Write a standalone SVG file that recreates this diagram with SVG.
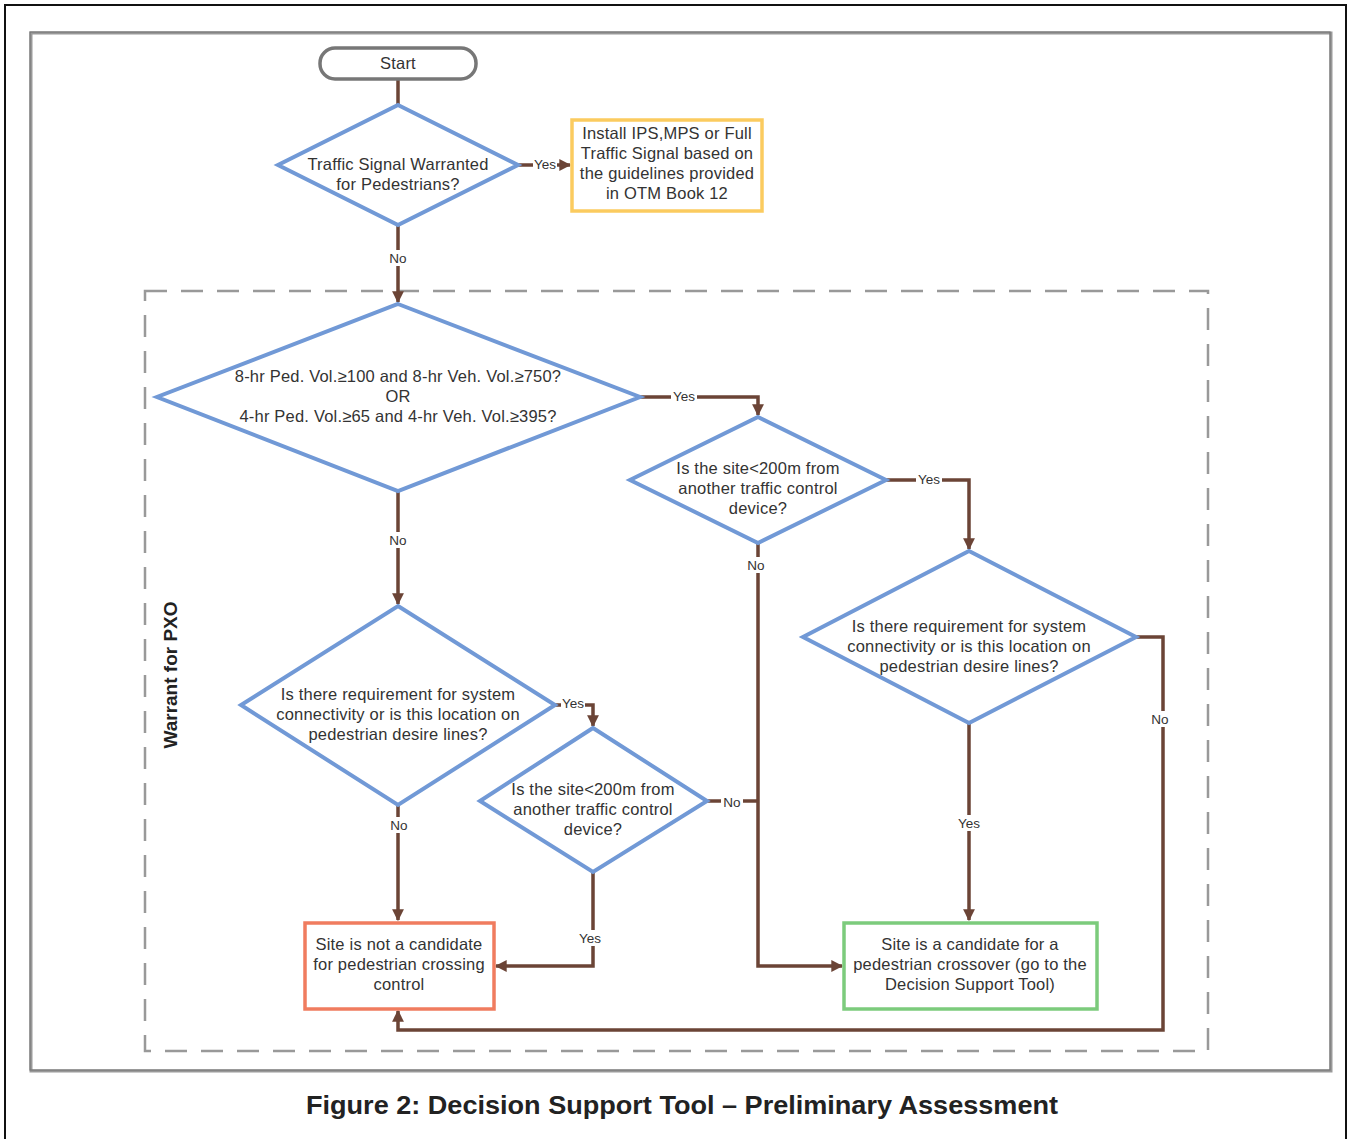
<svg xmlns="http://www.w3.org/2000/svg" width="1352" height="1139" viewBox="0 0 1352 1139">
<style>
text{font-family:"Liberation Sans",Arial,sans-serif;fill:#333;}
.t{font-size:16.5px;letter-spacing:0.2px;text-anchor:middle;}
.lbl{font-size:13.5px;text-anchor:middle;}
.dia{fill:#fff;stroke:#7199D6;stroke-width:4;stroke-linejoin:miter;}
.con{fill:none;stroke:#6B4436;stroke-width:3.5;}
.lb{fill:#fff;}
</style>
<defs>
<marker id="ah" viewBox="0 0 10 10" refX="9" refY="5" markerWidth="3.4" markerHeight="3.4" orient="auto" markerUnits="strokeWidth">
<path d="M0,0 L10,5 L0,10 z" fill="#6B4436"/>
</marker>
</defs>
<rect x="0" y="0" width="1352" height="1139" fill="#fff"/>
<rect x="5" y="5" width="1341" height="1150" fill="none" stroke="#111" stroke-width="2"/>
<rect x="31" y="33" width="1300" height="1038" fill="none" stroke="#999" stroke-width="3"/>
<rect x="30" y="32" width="1300" height="1038" fill="none" stroke="#777" stroke-width="1.2"/>
<rect x="145" y="291" width="1063" height="760" fill="none" stroke="#999" stroke-width="2.5" stroke-dasharray="22,14"/>
<text x="177" y="675" transform="rotate(-90 177 675)" style="font-size:19px;font-weight:bold;text-anchor:middle;fill:#222">Warrant for PXO</text>

<g id="connectors">
<path class="con" d="M398,79 L398,105"/>
<path class="con" d="M518,165 L570,165" marker-end="url(#ah)"/>
<path class="con" d="M398,225 L398,302" marker-end="url(#ah)"/>
<path class="con" d="M640,397 L758,397 L758,415" marker-end="url(#ah)"/>
<path class="con" d="M398,491 L398,604" marker-end="url(#ah)"/>
<path class="con" d="M886,480 L969,480 L969,549" marker-end="url(#ah)"/>
<path class="con" d="M758,543 L758,966 L842,966" marker-end="url(#ah)"/>
<path class="con" d="M969,723 L969,920" marker-end="url(#ah)"/>
<path class="con" d="M1136,637 L1163,637 L1163,1030 L398,1030 L398,1011" marker-end="url(#ah)"/>
<path class="con" d="M555,705 L593,705 L593,726" marker-end="url(#ah)"/>
<path class="con" d="M398,805 L398,920" marker-end="url(#ah)"/>
<path class="con" d="M707,801 L758,801"/>
<path class="con" d="M593,872 L593,966 L496,966" marker-end="url(#ah)"/>
<g id="labels">
<rect class="lb" x="533" y="157" width="24" height="15"/><text class="lbl" x="545" y="169">Yes</text>
<rect class="lb" x="388" y="250" width="20" height="16"/><text class="lbl" x="398" y="263">No</text>
<rect class="lb" x="671" y="389" width="26" height="15"/><text class="lbl" x="684" y="401">Yes</text>
<rect class="lb" x="388" y="532" width="20" height="16"/><text class="lbl" x="398" y="545">No</text>
<rect class="lb" x="916" y="472" width="26" height="15"/><text class="lbl" x="929" y="484">Yes</text>
<rect class="lb" x="746" y="557" width="20" height="16"/><text class="lbl" x="756" y="570">No</text>
<rect class="lb" x="956" y="815" width="26" height="16"/><text class="lbl" x="969" y="828">Yes</text>
<rect class="lb" x="1150" y="711" width="20" height="16"/><text class="lbl" x="1160" y="724">No</text>
<rect class="lb" x="561" y="697" width="24" height="14"/><text class="lbl" x="573" y="708">Yes</text>
<rect class="lb" x="388" y="817" width="20" height="16"/><text class="lbl" x="399" y="830">No</text>
<rect class="lb" x="721" y="795" width="22" height="14"/><text class="lbl" x="732" y="807">No</text>
<rect class="lb" x="577" y="930" width="26" height="16"/><text class="lbl" x="590" y="943">Yes</text>
</g>
</g>

<g id="start">
<rect x="320" y="48" width="156" height="31" rx="15" ry="15" fill="#fff" stroke="#777" stroke-width="3.5"/>
<text class="t" x="398" y="69">Start</text>
</g>
<g id="d1">
<polygon class="dia" points="398,105 518,165 398,225 278,165"/>
<text class="t" x="398" y="170">Traffic Signal Warranted</text>
<text class="t" x="398" y="190">for Pedestrians?</text>
</g>
<g id="install">
<rect x="572" y="120" width="190" height="91" fill="#fff" stroke="#FBCB5F" stroke-width="3.5"/>
<text class="t" x="667" y="139">Install IPS,MPS or Full</text>
<text class="t" x="667" y="159">Traffic Signal based on</text>
<text class="t" x="667" y="179">the guidelines provided</text>
<text class="t" x="667" y="199">in OTM Book 12</text>
</g>
<g id="d2">
<polygon class="dia" points="398,304 640,397 398,491 157,397"/>
<text class="t" x="398" y="382">8-hr Ped. Vol.≥100 and 8-hr Veh. Vol.≥750?</text>
<text class="t" x="398" y="402">OR</text>
<text class="t" x="398" y="422">4-hr Ped. Vol.≥65 and 4-hr Veh. Vol.≥395?</text>
</g>
<g id="d3">
<polygon class="dia" points="758,417 886,480 758,543 630,480"/>
<text class="t" x="758" y="474">Is the site&lt;200m from</text>
<text class="t" x="758" y="494">another traffic control</text>
<text class="t" x="758" y="514">device?</text>
</g>
<g id="d4">
<polygon class="dia" points="969,551 1136,637 969,723 803,637"/>
<text class="t" x="969" y="632">Is there requirement for system</text>
<text class="t" x="969" y="652">connectivity or is this location on</text>
<text class="t" x="969" y="672">pedestrian desire lines?</text>
</g>
<g id="d5">
<polygon class="dia" points="398,606 555,705 398,805 241,705"/>
<text class="t" x="398" y="700">Is there requirement for system</text>
<text class="t" x="398" y="720">connectivity or is this location on</text>
<text class="t" x="398" y="740">pedestrian desire lines?</text>
</g>
<g id="d6">
<polygon class="dia" points="593,728 707,801 593,872 480,801"/>
<text class="t" x="593" y="795">Is the site&lt;200m from</text>
<text class="t" x="593" y="815">another traffic control</text>
<text class="t" x="593" y="835">device?</text>
</g>
<g id="notcandidate">
<rect x="305" y="923" width="189" height="86" fill="#fff" stroke="#F07C5F" stroke-width="3.5"/>
<text class="t" x="399" y="950">Site is not a candidate</text>
<text class="t" x="399" y="970">for pedestrian crossing</text>
<text class="t" x="399" y="990">control</text>
</g>
<g id="candidate">
<rect x="844" y="923" width="253" height="86" fill="#fff" stroke="#7CCB7C" stroke-width="3.5"/>
<text class="t" x="970" y="950">Site is a candidate for a</text>
<text class="t" x="970" y="970">pedestrian crossover (go to the</text>
<text class="t" x="970" y="990">Decision Support Tool)</text>
</g>
<text x="682" y="1114" textLength="752" lengthAdjust="spacingAndGlyphs" style="font-size:26px;font-weight:bold;text-anchor:middle;fill:#222">Figure 2: Decision Support Tool – Preliminary Assessment</text>
</svg>
